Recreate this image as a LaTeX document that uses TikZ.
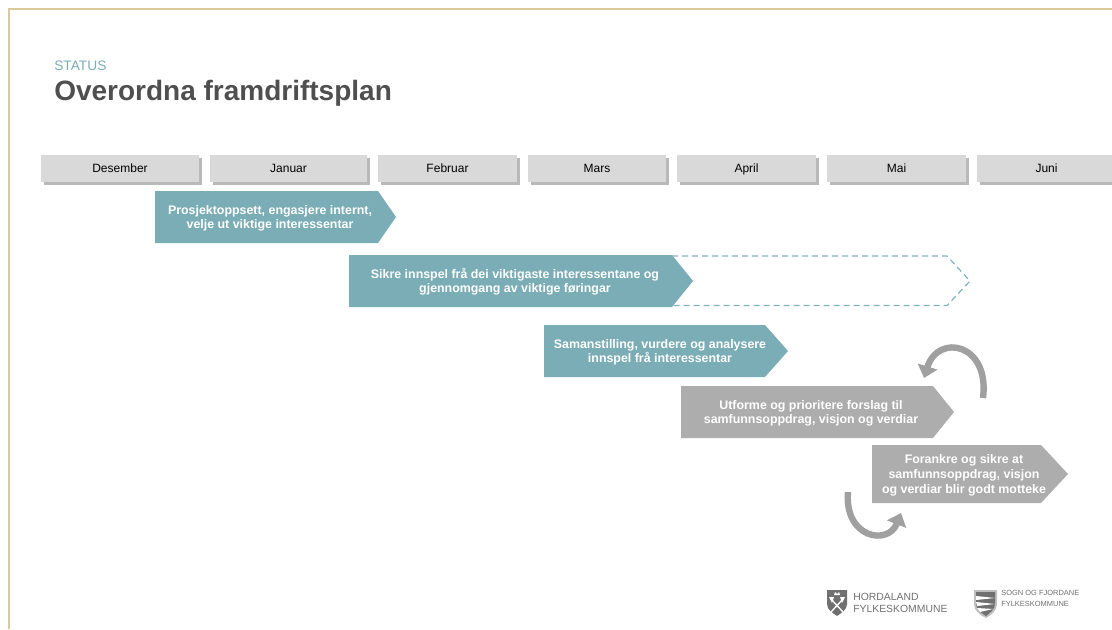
\documentclass[tikz,border=0pt]{standalone}
\usepackage{fontspec}
\setmainfont{Liberation Sans}
\usetikzlibrary{shadows,arrows.meta}
\definecolor{fasebla}{HTML}{7AADB5}
\definecolor{strekbla}{HTML}{7FB3BC}
\definecolor{fasegra}{HTML}{ADADAD}
\definecolor{rundegra}{HTML}{A0A0A0}
\definecolor{maanedgra}{HTML}{D9D9D9}
\definecolor{tittelgra}{HTML}{4F4F4F}
\definecolor{ramme}{HTML}{DCC899}
\definecolor{logogra}{HTML}{707070}
\tikzset{
  maaned/.style={fill=maanedgra,minimum height=20.5pt,inner sep=0pt,
    text height=6.5pt,text depth=0pt,
    font=\fontsize{9}{11}\selectfont,
    drop shadow={shadow xshift=2pt,shadow yshift=-2pt,opacity=0.55}},
  fasetekst/.style={text=white,align=center,inner sep=0pt,
    font=\bfseries\fontsize{9.3}{10.6}\selectfont},
  runde/.style={draw=rundegra,line width=4.8pt,
    -{Triangle[length=9pt,width=15pt]}},
  logotekst/.style={anchor=west,text=logogra,align=left,inner sep=0pt}
}
\begin{document}
\begin{tikzpicture}[x=0.75pt,y=-0.75pt]
      \useasboundingbox (0,0) rectangle (1112,629);
      \draw[ramme,line width=0.8pt] (9,629)--(9,9)--(1112,9); %ramme
      \node[anchor=base west,text=fasebla,inner sep=0pt,font=\fontsize{10.3}{12}\selectfont] (status) at (54,70.5) {STATUS};
      \node[anchor=base west,text=tittelgra,inner sep=0pt,font=\bfseries\fontsize{21}{25}\selectfont] (tittel) at (54,100) {Overordna framdriftsplan};
      % månader
      \node[maaned,minimum width=118.5pt] (des) at (120,168.5) {Desember};
      \node[maaned,minimum width=117.75pt] (jan) at (288.5,168.5) {Januar};
      \node[maaned,minimum width=104.25pt] (feb) at (447.5,168.5) {Februar};
      \node[maaned,minimum width=103.5pt] (mar) at (597,168.5) {Mars};
      \node[maaned,minimum width=104.25pt] (apr) at (746.5,168.5) {April};
      \node[maaned,minimum width=104.25pt] (mai) at (896.5,168.5) {Mai};
      \node[maaned,minimum width=104.25pt] (jun) at (1046.5,168.5) {Juni};
      % fasar
      \fill[fasebla] (155,191)--(378,191)--(396,217)--(378,243)--(155,243)--cycle;
      \node[fasetekst] (oppsett) at (270,218) {Prosjektoppsett, engasjere internt,\\velje ut viktige interessentar};
      \draw[strekbla,line width=0.9pt,dash pattern=on 4.5pt off 3pt] (672,256)--(947,256)--(970,281)--(947,305.5)--(672,305.5);
      \fill[fasebla] (349,255)--(672,255)--(693,281)--(672,307)--(349,307)--cycle;
      \node[fasetekst] (innspel) at (515,282) {Sikre innspel frå dei viktigaste interessentane og\\gjennomgang av viktige føringar};
      \fill[fasebla] (544,325)--(765,325)--(788,351)--(765,377)--(544,377)--cycle;
      \node[fasetekst] (analyse) at (660,352) {Samanstilling, vurdere og analysere\\innspel frå interessentar};
      \fill[fasegra] (681,386)--(933,386)--(954,412)--(933,438)--(681,438)--cycle;
      \node[fasetekst] (utforme) at (811,413) {Utforme og prioritere forslag til\\samfunnsoppdrag, visjon og verdiar};
      \fill[fasegra] (872,445)--(1041,445)--(1068,474)--(1041,503)--(872,503)--cycle;
      \node[fasetekst,font=\bfseries\fontsize{9.3}{11.2}\selectfont] (forankre) at (964,475) {Forankre og sikre at\\samfunnsoppdrag, visjon\\og verdiar blir godt motteke};
      % rundar
      \draw[runde] (983,398) .. controls (990,343) and (938,333) .. (924,378);
      \draw[runde] (848,492) .. controls (844,538) and (888,546) .. (901,513);
      % logoar
      \fill[logogra] (827,590)--(847,590)--(847,604) .. controls (847,610) and (841,613) .. (837,616) .. controls (833,613) and (827,610) .. (827,604)--cycle;
      \draw[white,line width=1pt] (831,599)--(843,612) (843,599)--(831,612);
      \fill[white] (829,597)--(834,597)--(832,603)--cycle (845,597)--(840,597)--(842,603)--cycle;
      \fill[white] (834,595)--(835,592)--(837,594)--(839,592)--(840,595)--cycle;
      \node[logotekst,font=\fontsize{7.8}{8.6}\selectfont] (hfk) at (853,603) {HORDALAND\\FYLKESKOMMUNE};
      \fill[logogra!45] (974,590)--(997,590)--(997,604) .. controls (997,611) and (991,615) .. (986,618) .. controls (980,615) and (974,611) .. (974,604)--cycle;
      \fill[logogra] (976,592)--(995,592)--(995,604) .. controls (995,609) and (990,613) .. (986,616) .. controls (981,613) and (976,609) .. (976,604)--cycle;
      \fill[white] (976,596)--(995,598)--(976,600)--cycle (976,602)--(995,604)--(977,606)--cycle (977,608)--(993,609)--(980,612)--cycle;
      \node[logotekst,font=\fontsize{5.6}{8.4}\selectfont] (sfj) at (1001,598.5) {SOGN OG FJORDANE\\FYLKESKOMMUNE};
\end{tikzpicture}
\end{document}
